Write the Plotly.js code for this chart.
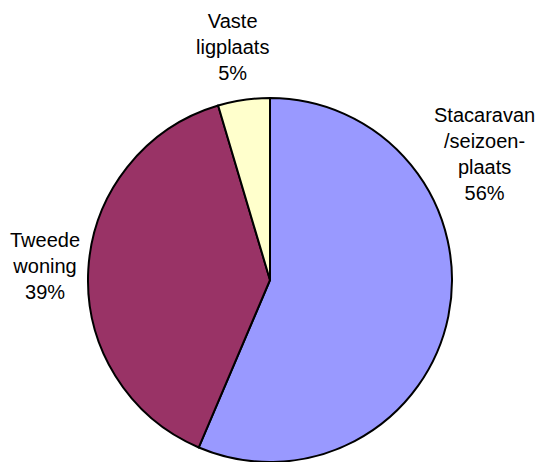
<!DOCTYPE html>
<html>
<head>
<meta charset="utf-8">
<script src="https://cdn.plot.ly/plotly-3.0.1.min.js"></script>
<style>
html, body { margin: 0; padding: 0; background: #ffffff; }
#chart { width: 539px; height: 462px; }
</style>
</head>
<body>
<div id="chart"></div>
<script>
// Data
const categories = ["Stacaravan/seizoenplaats", "Tweede woning", "Vaste ligplaats"];
const displayLabels = ["Stacaravan<br>/seizoen-<br>plaats", "Tweede<br>woning", "Vaste<br>ligplaats"];
const values = [56.4, 39.0, 4.6];
const colors = ["#9999FF", "#993366", "#FFFFCC"];

const W = 539, H = 462;
const total = values.reduce((a, b) => a + b, 0);
const pct = values.map(v => Math.round(v / total * 100) + "%");

// label centres in pixels (layout only)
const labelPos = [[484, 154], [45, 266], [232, 47]];

const cx = 270, cy = 280, r = 182;

const trace = {
  type: "pie",
  labels: categories,
  values: values,
  sort: false,
  direction: "clockwise",
  rotation: 0,
  textinfo: "none",
  hoverinfo: "label+percent",
  marker: { colors: colors, line: { color: "#000000", width: 2 } },
  domain: { x: [(cx - r) / W, (cx + r) / W], y: [(H - cy - r) / H, (H - cy + r) / H] },
  showlegend: false
};

const font = { family: "Liberation Sans, Arial, sans-serif", size: 20, color: "#000000" };

const annotations = categories.map((c, i) => ({
  xref: "paper", yref: "paper",
  x: labelPos[i][0] / W, y: 1 - labelPos[i][1] / H,
  xanchor: "center", yanchor: "middle",
  text: displayLabels[i] + "<br>" + pct[i],
  showarrow: false, align: "center", font: font
}));

const layout = {
  width: W, height: H,
  margin: { l: 0, r: 0, t: 0, b: 0 },
  paper_bgcolor: "#ffffff",
  plot_bgcolor: "#ffffff",
  showlegend: false,
  annotations: annotations
};

Plotly.newPlot("chart", [trace], layout, { displayModeBar: false, staticPlot: true });
</script>
</body>
</html>
